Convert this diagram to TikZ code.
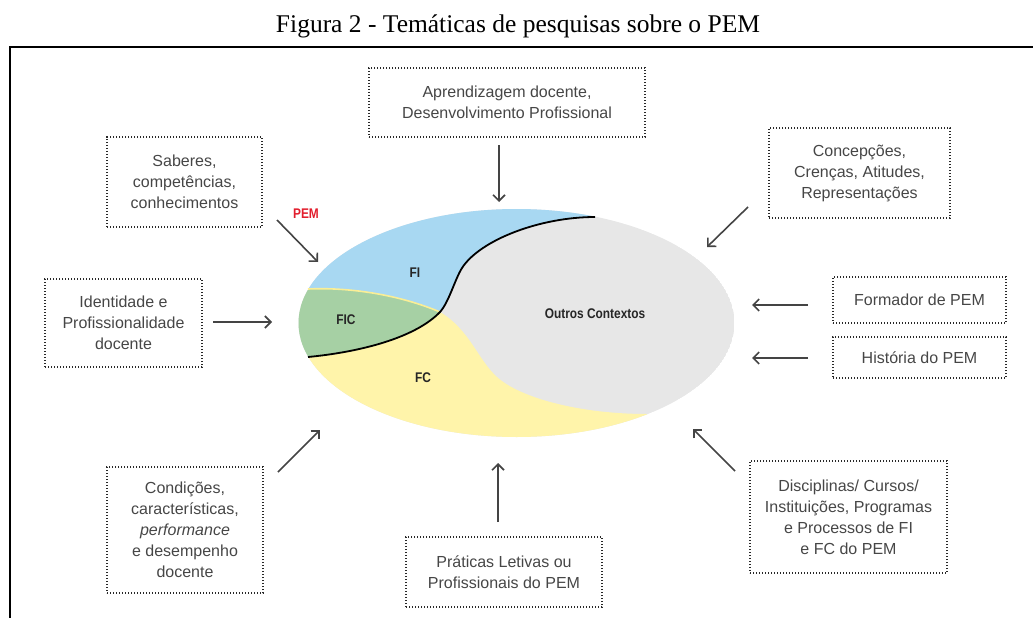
\documentclass[tikz,border=0pt]{standalone}
\usepackage{fontspec}
\setmainfont{Liberation Sans}
\newfontfamily\titlefont{Liberation Serif}
\newfontfamily\narrowfont[FakeStretch=0.85]{Liberation Sans}
\usetikzlibrary{arrows.meta}

\definecolor{fiblue}{RGB}{168,216,242}
\definecolor{ficgreen}{RGB}{166,208,164}
\definecolor{fcyellow}{RGB}{255,244,170}
\definecolor{yellowline}{RGB}{250,238,150}
\definecolor{outgray}{RGB}{231,231,231}
\definecolor{linegray}{RGB}{68,68,68}
\definecolor{dotgray}{RGB}{40,40,40}
\definecolor{txtgray}{RGB}{70,70,70}
\definecolor{pemred}{RGB}{226,30,45}

\tikzset{
  tema/.style={draw=dotgray, line width=1.7pt, dash pattern=on 1.4pt off 1.6pt,
    text=txtgray, align=center, inner sep=0pt,
    font=\fontsize{16}{21}\selectfont},
  seta/.style={draw=linegray, line width=1.6pt,
    -{Straight Barb[length=6pt,width=12pt]}},
  rotulo/.style={font=\narrowfont\bfseries\fontsize{14}{16}\selectfont, text=black!85},
}

\begin{document}
\begin{tikzpicture}[x=1pt,y=-1pt]
\useasboundingbox (0,0) rectangle (1033,618);

\node[anchor=base, font=\titlefont\fontsize{25.5}{30}\selectfont] (titulo) at (518,33)
  {Figura 2 - Temáticas de pesquisas sobre o PEM};
\draw[line width=2pt] (10,618) -- (10,47) -- (1033,47);

% elipse
\coordinate (c) at (516.5,323);
\begin{scope}
\clip (c) ellipse [x radius=218, y radius=114];
\fill[outgray] (c) ellipse [x radius=218, y radius=114];
\fill[fiblue] (440,312) .. controls (449,302) and (455,279) .. (462,268)
  .. controls (480,240) and (540,217) .. (595,217) -- (595,90) -- (250,90)
  -- (250,289) -- (308,289) .. controls (350,287) and (400,295) .. (440,312);
\fill[ficgreen] (440,312) .. controls (415,338) and (360,352) .. (308,357)
  -- (250,357) -- (250,289) -- (308,289) .. controls (350,287) and (400,295) .. (440,312);
\fill[fcyellow] (440,312) .. controls (415,338) and (360,352) .. (308,357)
  -- (250,357) -- (250,480) -- (647,480) -- (647,414)
  .. controls (580,414) and (520,398) .. (497,377)
  .. controls (478,360) and (470,330) .. (440,312);
\end{scope}
\draw[yellowline, line width=1.6pt] (308,289) .. controls (350,287) and (400,295) .. (440,312);
\draw[line width=1.8pt] (595,217) .. controls (540,217) and (480,240) .. (462,268)
  .. controls (455,279) and (449,302) .. (440,312)
  .. controls (415,338) and (360,352) .. (308,357);

\node[rotulo] (fi) at (415,273) {FI};
\node[rotulo] (fic) at (346,320) {FIC};
\node[rotulo] (fc) at (423,378) {FC};
\node[rotulo] (outros) at (595,314) {Outros Contextos};
\node[rotulo, text=pemred] (pem) at (306,214) {PEM};

% temas
\node[tema, minimum width=276pt, minimum height=69pt] (apr) at (507,102.5)
  {Aprendizagem docente,\\Desenvolvimento Profissional};
\node[tema, minimum width=155pt, minimum height=90pt] (sab) at (184.5,182)
  {Saberes,\\competências,\\conhecimentos};
\node[tema, minimum width=181pt, minimum height=90pt] (con) at (859.5,173)
  {Concepções,\\Crenças, Atitudes,\\Representações};
\node[tema, minimum width=157pt, minimum height=88pt] (ide) at (123.5,323)
  {Identidade e\\Profissionalidade\\docente};
\node[tema, minimum width=173pt, minimum height=46pt] (for) at (919.5,300)
  {Formador de PEM};
\node[tema, minimum width=173pt, minimum height=41pt] (his) at (919.5,357.5)
  {História do PEM};
\node[tema, minimum width=156pt, minimum height=126pt] (cond) at (185,530)
  {Condições,\\características,\\\textit{performance}\\e desempenho\\docente};
\node[tema, minimum width=196pt, minimum height=70pt] (pra) at (504,572)
  {Práticas Letivas ou\\Profissionais do PEM};
\node[tema, minimum width=197pt, minimum height=112pt] (dis) at (848.5,517)
  {Disciplinas/ Cursos/\\Instituições, Programas\\e Processos de FI\\e FC do PEM};

% setas
\coordinate (aprA) at (499,145);   \coordinate (aprB) at (499,202);
\coordinate (sabA) at (277,220);   \coordinate (sabB) at (318,262);
\coordinate (conA) at (748,207);   \coordinate (conB) at (707,247);
\coordinate (ideA) at (213,322);   \coordinate (ideB) at (272,322);
\coordinate (forA) at (808,305);   \coordinate (forB) at (752,305);
\coordinate (hisA) at (808,358);   \coordinate (hisB) at (752,358);
\coordinate (condA) at (278,472);  \coordinate (condB) at (320,430);
\coordinate (praA) at (498,522);   \coordinate (praB) at (498,463);
\coordinate (disA) at (735,471);   \coordinate (disB) at (693,429);
\draw[seta] (aprA) -- (aprB);
\draw[seta] (sabA) -- (sabB);
\draw[seta] (conA) -- (conB);
\draw[seta] (ideA) -- (ideB);
\draw[seta] (forA) -- (forB);
\draw[seta] (hisA) -- (hisB);
\draw[seta] (condA) -- (condB);
\draw[seta] (praA) -- (praB);
\draw[seta] (disA) -- (disB);
\end{tikzpicture}
\end{document}
